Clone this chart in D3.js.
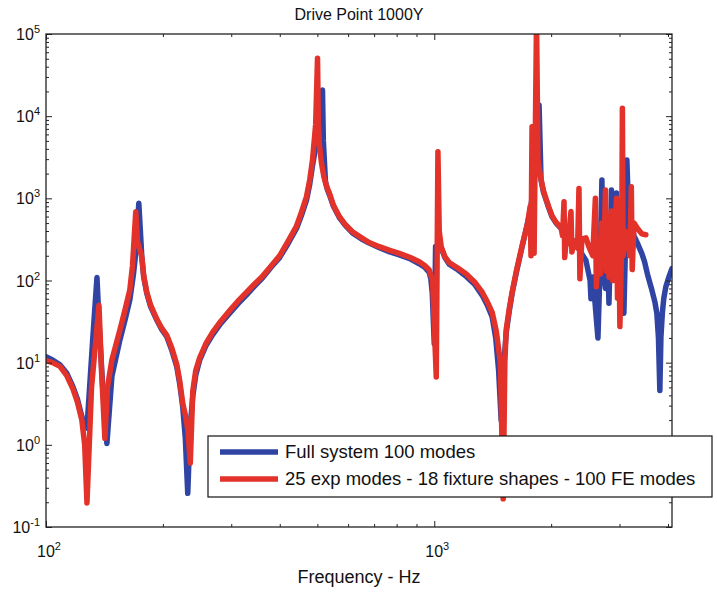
<!DOCTYPE html>
<html>
<head>
<meta charset="utf-8">
<script src="https://cdn.jsdelivr.net/npm/d3@7/dist/d3.min.js"></script>
<style>
  body { margin: 0; background: #fff; }
  text { font-family: "Liberation Sans", Arial, Helvetica, sans-serif; fill: #111; }
</style>
</head>
<body>
<div id="chart"></div>
<script>
// Drive point FRF, two models
var freqBlue = [100, 104, 108.6, 113, 117.3, 120.5, 123.7, 125.5, 127.5, 132, 135.3, 137, 140, 143.5, 147.8, 155,
  160, 164.4, 168, 170, 173.4, 176.5, 178.5, 181.8, 186, 192.9, 198, 204.7, 211, 217.2, 221, 225, 228.5, 231.8,
  235, 238.8, 243, 248.9, 258, 268.8, 282, 297.2, 312, 328.6, 344, 361.3, 380, 399.6, 420, 441.8, 455, 468.8,
  478, 485.8, 495, 505, 515.4, 518, 524.6, 530, 537.2, 550, 570, 590, 615.5, 650, 680, 722.2, 765, 812.8, 865,
  915, 945, 970.7, 980, 988.3, 1000, 1008, 1042, 1065, 1093, 1150, 1209, 1270, 1329, 1370, 1410, 1440, 1465,
  1487, 1500, 1532, 1560, 1587, 1630, 1684, 1730, 1766, 1808, 1862, 1884, 1910, 1941, 1975, 2011, 2060, 2121,
  2190, 2250, 2359, 2459, 2520, 2533, 2560, 2590, 2640, 2670, 2703, 2720, 2760, 2790, 2818, 2845, 2860, 2880,
  2920, 2946, 2980, 3030, 3079, 3110, 3134, 3160, 3190, 3218, 3270, 3330, 3424, 3480, 3540, 3600, 3634, 3700,
  3744, 3780, 3811, 3835, 3868, 3900, 3949, 4020, 4096];
var magBlue = [11.8, 10.8, 9.4, 7.5, 5.1, 3.6, 2.2, 1.8, 1.6, 20, 109, 30, 5, 1.04, 6.8, 18.9,
  34, 58, 120, 200, 871, 195, 110, 70, 48, 33, 26, 20.7, 14, 8.9, 5.5, 2.9, 1.2, 0.257,
  1.6, 3.9, 7, 10.8, 16, 22, 30, 40, 52, 67, 85, 108, 145, 190, 280, 430, 620, 950,
  1500, 2500, 4200, 6000, 20800, 5000, 1600, 1300, 1100, 800, 580, 470, 380, 320, 285, 250, 225, 205, 185,
  160, 145, 125, 105, 70, 17, 260, 250, 190, 158, 135, 112, 90, 66, 50, 36, 20, 8,
  2.0, 6, 23, 42, 70, 130, 258, 450, 700, 1500, 13700, 1670, 1200, 955, 750, 598, 500, 430,
  380, 330, 240, 175, 100, 60, 110, 60, 19.9, 120, 1670, 150, 80, 400, 53, 300, 1260, 150,
  300, 1160, 150, 100, 40, 300, 2930, 900, 600, 452, 350, 290, 214, 170, 120, 90, 77, 55,
  40, 20, 4.6, 20, 40, 60, 84, 110, 140];

var freqRed = [100, 104, 108.6, 113, 117.3, 120.5, 123.7, 125.8, 127.5, 131, 136.9, 139, 141.8, 144, 147.8, 155,
  160, 164.4, 167, 170.3, 172, 176.5, 178.5, 181.8, 186, 192.9, 198, 204.7, 211, 217.2, 221, 225, 229, 232,
  235.3, 238.8, 243, 248.9, 258, 268.8, 282, 297.2, 312, 328.6, 344, 361.3, 380, 399.6, 420, 441.8, 455, 468.8,
  478, 485.8, 495, 500.4, 503, 506, 512.3, 520, 528, 537.2, 550, 570, 590, 615.5, 650, 680, 722.2, 765, 812.8,
  865, 915, 945, 970.7, 990, 1012, 1022, 1030, 1042, 1065, 1093, 1150, 1209, 1270, 1329, 1370, 1410, 1445,
  1480, 1505, 1520, 1532, 1560, 1587, 1630, 1684, 1740, 1766, 1775, 1786, 1800, 1808, 1834, 1850, 1870, 1884,
  1910, 1941, 1975, 2011, 2060, 2121, 2140, 2159, 2168, 2185, 2210, 2250, 2262, 2300, 2340, 2359, 2372, 2400,
  2459, 2500, 2560, 2600, 2615, 2640, 2680, 2700, 2730, 2760, 2775, 2800, 2820, 2860, 2880, 2920, 2946, 2965,
  2990, 3007, 3040, 3052, 3065, 3100, 3150, 3190, 3218, 3235, 3270, 3350, 3424, 3507];
var magRed = [10.6, 10, 9.0, 7.0, 4.8, 3.3, 2.0, 1.0, 0.196, 5, 50, 8, 1.2, 5, 10.8, 25,
  45, 77, 150, 688, 300, 195, 115, 72, 50, 34, 27, 21.5, 15, 9.5, 6, 3.2, 2.2, 1.5,
  0.6, 4.5, 8, 11.5, 17, 23.5, 32, 43, 56, 72, 90, 113, 150, 200, 300, 460, 680, 1050,
  1700, 2930, 8000, 50600, 8000, 4500, 2690, 1800, 1400, 1150, 820, 598, 480, 392, 330, 290, 258, 234, 214,
  192, 169, 152, 134, 100, 6.7, 3700, 400, 258, 195, 165, 142, 120, 96, 72, 55, 41, 24,
  10, 0.22, 10, 25, 45, 72, 135, 265, 500, 800, 200, 7450, 1000, 214, 150000, 3000, 2100, 1700,
  1250, 980, 770, 610, 510, 440, 350, 910, 190, 300, 280, 690, 222, 300, 250, 1320, 105, 320,
  330, 260, 200, 1000, 84, 200, 120, 500, 150, 1260, 130, 600, 110, 700, 100, 400, 1000, 61,
  300, 27.5, 300, 12500, 200, 400, 300, 200, 1380, 136, 500, 420, 370, 360];

var xDomain = [100, 4096];
var yDomain = [0.1, 100000];
var xMajor = [100, 1000];
var xMinor = [200, 300, 400, 500, 600, 700, 800, 900, 2000, 3000, 4000];
var yMajorExp = [-1, 0, 1, 2, 3, 4, 5];
var xLabelExp = [2, 3];

var titleText = "Drive Point 1000Y";
var xLabelText = "Frequency - Hz";
var seriesNames = ["Full system 100 modes", "25 exp modes - 18 fixture shapes - 100 FE modes"];
var seriesColors = ["#2f44a3", "#e2322a"];

var margin = {top: 34, right: 45, bottom: 65, left: 46};
var width = 717 - margin.left - margin.right,
    height = 592 - margin.top - margin.bottom;

var svg = d3.select("#chart").append("svg")
  .attr("width", 717)
  .attr("height", 592);

var g = svg.append("g")
  .attr("transform", "translate(" + margin.left + "," + margin.top + ")");

var x = d3.scaleLog().domain(xDomain).range([0, width]);
var y = d3.scaleLog().domain(yDomain).range([height, 0]);

// minor y ticks 2..9 each decade
var yMajor = yMajorExp.map(function(e){ return Math.pow(10, e); });
var yMinor = [];
yMajorExp.slice(0, -1).forEach(function(e){
  for (var k = 2; k <= 9; k++) yMinor.push(k * Math.pow(10, e));
});

g.append("clipPath").attr("id", "plotclip")
  .append("rect").attr("width", width).attr("height", height);

// lines
var line = d3.line()
  .x(function(d){ return x(d.f); })
  .y(function(d){ return y(d.v); });

var seriesData = [
  freqBlue.map(function(f, i){ return {f: f, v: magBlue[i]}; }),
  freqRed.map(function(f, i){ return {f: f, v: magRed[i]}; })
];

g.append("g").attr("clip-path", "url(#plotclip)")
  .selectAll(".curve")
  .data(seriesData)
  .enter().append("path")
  .attr("class", "curve")
  .attr("d", line)
  .attr("fill", "none")
  .attr("stroke", function(d, i){ return seriesColors[i]; })
  .attr("stroke-width", 5.5)
  .attr("stroke-linejoin", "round")
  .attr("stroke-linecap", "round");

// axes, ticks pointing inward
function styleAxis(sel) {
  sel.select(".domain").remove();
  sel.selectAll("line").attr("stroke", "#222");
  sel.selectAll("text").remove();
}

g.append("g").attr("transform", "translate(0," + height + ")")
  .call(d3.axisBottom(x).tickValues(xMinor).tickSize(-3).tickSizeOuter(0)).call(styleAxis);
g.append("g").attr("transform", "translate(0," + height + ")")
  .call(d3.axisBottom(x).tickValues(xMajor).tickSize(-6).tickSizeOuter(0)).call(styleAxis);
g.append("g")
  .call(d3.axisTop(x).tickValues(xMinor).tickSize(-3).tickSizeOuter(0)).call(styleAxis);
g.append("g")
  .call(d3.axisTop(x).tickValues(xMajor).tickSize(-6).tickSizeOuter(0)).call(styleAxis);

g.append("g")
  .call(d3.axisLeft(y).tickValues(yMinor).tickSize(-3).tickSizeOuter(0)).call(styleAxis);
g.append("g")
  .call(d3.axisLeft(y).tickValues(yMajor).tickSize(-6).tickSizeOuter(0)).call(styleAxis);
g.append("g").attr("transform", "translate(" + width + ",0)")
  .call(d3.axisRight(y).tickValues(yMinor).tickSize(-3).tickSizeOuter(0)).call(styleAxis);
g.append("g").attr("transform", "translate(" + width + ",0)")
  .call(d3.axisRight(y).tickValues(yMajor).tickSize(-6).tickSizeOuter(0)).call(styleAxis);

g.append("rect")
  .attr("width", width).attr("height", height)
  .attr("fill", "none").attr("stroke", "#222").attr("stroke-width", 1.3);

// tick labels as 10^n
var yl = g.selectAll(".ylab").data(yMajorExp).enter().append("text")
  .attr("class", "ylab")
  .attr("x", -6)
  .attr("y", function(d){ return y(Math.pow(10, d)) + 6; })
  .attr("text-anchor", "end")
  .style("font-size", "16px");
yl.append("tspan").text("10");
yl.append("tspan").attr("dy", -7).style("font-size", "11px").text(function(d){ return d; });

var xl = g.selectAll(".xlab").data(xLabelExp).enter().append("text")
  .attr("class", "xlab")
  .attr("x", function(d){ return x(Math.pow(10, d)) + 3; })
  .attr("y", height + 30)
  .attr("text-anchor", "middle")
  .style("font-size", "16px");
xl.append("tspan").text("10");
xl.append("tspan").attr("dy", -7).style("font-size", "11px").text(function(d){ return d; });

// title and axis label
g.append("text")
  .attr("x", width / 2).attr("y", -14)
  .attr("text-anchor", "middle")
  .style("font-size", "16px")
  .text(titleText);

g.append("text")
  .attr("x", width / 2).attr("y", height + 56)
  .attr("text-anchor", "middle")
  .style("font-size", "18px")
  .text(xLabelText);

// legend
var legend = svg.append("g").attr("transform", "translate(208,436)");
legend.append("rect")
  .attr("width", 504).attr("height", 61)
  .attr("fill", "#fff").attr("stroke", "#111").attr("stroke-width", 1.2);

var rows = legend.selectAll(".lg").data(seriesNames).enter().append("g")
  .attr("class", "lg")
  .attr("transform", function(d, i){ return "translate(0," + (16 + i * 27) + ")"; });
rows.append("line")
  .attr("x1", 12).attr("x2", 70)
  .attr("stroke", function(d, i){ return seriesColors[i]; })
  .attr("stroke-width", 5.5);
rows.append("text")
  .attr("x", 77).attr("y", 6)
  .style("font-size", "18.5px")
  .text(function(d){ return d; });
</script>
</body>
</html>
